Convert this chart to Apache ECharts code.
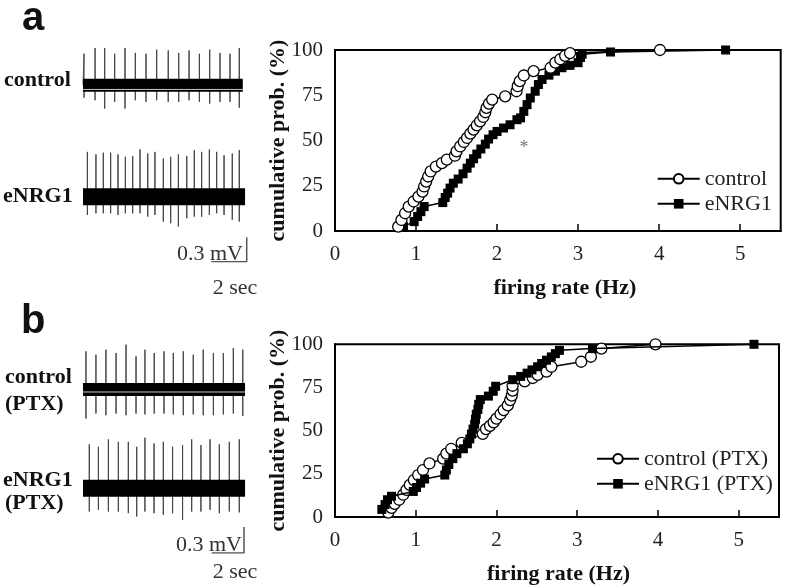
<!DOCTYPE html>
<html>
<head>
<meta charset="utf-8">
<script src="https://cdn.jsdelivr.net/npm/echarts@6/dist/echarts.min.js"></script>
<style>
  html, body { margin: 0; padding: 0; background: #fff; }
  #chart { width: 787px; height: 586px; }
</style>
</head>
<body>
<div id="chart"></div>
<script>
// ---- cumulative distributions (firing rate in Hz, cumulative prob. in %) ----
const aCtrlRate = [0.78, 0.82, 0.865, 0.91, 0.97, 1.03, 1.08, 1.10, 1.125, 1.15, 1.18, 1.245, 1.32, 1.38, 1.48, 1.50, 1.545, 1.59, 1.63, 1.67, 1.71, 1.75, 1.79, 1.83, 1.855, 1.87, 1.90, 1.94, 2.10, 2.24, 2.255, 2.28, 2.33, 2.45, 2.66, 2.72, 2.78, 2.84, 2.90, 4.01];
const aCtrlProb = [2.4, 6.1, 9.8, 13.5, 16.3, 19, 21.8, 24.6, 27.3, 30.1, 32.9, 35.6, 37.5, 39.4, 41.6, 44, 46.7, 49.2, 51.4, 53.8, 56, 58.4, 60.6, 63, 65.6, 68, 70.4, 72.6, 74.4, 77.2, 80, 82.8, 85.9, 88.3, 90.2, 93, 94.9, 96.8, 98.3, 100];

const aEnrgRate = [0.845, 0.977, 1.02, 1.06, 1.10, 1.33, 1.36, 1.39, 1.42, 1.46, 1.52, 1.58, 1.63, 1.67, 1.71, 1.75, 1.80, 1.855, 1.895, 1.95, 2.0, 2.08, 2.16, 2.245, 2.29, 2.33, 2.37, 2.41, 2.47, 2.51, 2.555, 2.64, 2.72, 2.80, 2.90, 3.0, 3.03, 3.05, 3.40, 4.82];
const aEnrgProb = [2.4, 5.2, 8, 10.7, 13.5, 15.7, 18.5, 20.9, 23.7, 26.4, 28.7, 31.6, 34.7, 37.5, 39.9, 42.5, 45.3, 48, 50.8, 53.2, 55, 56.9, 58.7, 61.5, 62.5, 66.1, 69.8, 73.5, 77.2, 80.9, 83.7, 86.1, 88.3, 90.2, 91.5, 93, 95.9, 97.7, 98.9, 100];

const bCtrlRate = [0.66, 0.70, 0.74, 0.795, 0.845, 0.885, 0.927, 0.977, 1.03, 1.09, 1.17, 1.34, 1.38, 1.44, 1.57, 1.83, 1.87, 1.92, 1.965, 2.0, 2.05, 2.09, 2.14, 2.17, 2.19, 2.20, 2.20, 2.35, 2.45, 2.51, 2.62, 2.68, 3.05, 3.17, 3.30, 3.97];
const bCtrlProb = [2.5, 5.3, 7.6, 10, 12.9, 15.7, 18.6, 21.4, 24.3, 27.2, 31, 33.8, 36.7, 39.5, 42.9, 48.1, 50.9, 52.8, 54.8, 57, 59.5, 61.9, 64.6, 67.7, 70.3, 73.2, 76, 78.5, 80.5, 82.3, 84.2, 87, 89.9, 92.8, 97.5, 100];

const bEnrgRate = [0.58, 0.62, 0.65, 0.70, 0.97, 1.01, 1.06, 1.11, 1.36, 1.38, 1.41, 1.46, 1.51, 1.59, 1.64, 1.67, 1.69, 1.71, 1.73, 1.74, 1.75, 1.77, 1.78, 1.80, 1.90, 1.96, 1.99, 2.20, 2.30, 2.38, 2.44, 2.51, 2.56, 2.62, 2.68, 2.73, 2.78, 3.19, 5.19];
const bEnrgProb = [4.4, 7.2, 10, 12, 14.8, 17.1, 19.6, 22, 24.3, 27.2, 30.4, 33.8, 36.7, 39.5, 42.4, 45.2, 48, 50.9, 53.7, 56.6, 59.5, 62.3, 65.2, 68, 70, 72.8, 75.7, 79.5, 81.4, 83.3, 85.2, 87, 88.9, 90.8, 92.7, 94.6, 96.5, 97.5, 100];

const rateTicks = [0, 1, 2, 3, 4, 5];
const probTicks = [0, 25, 50, 75, 100];

// ---- example traces: spike time (s), peak (mV), trough (mV) ----
const aCtrlSpikeT = [0.06, 0.69, 1.24, 1.81, 2.40, 2.99, 3.60, 4.21, 4.87, 5.47, 6.06, 6.65, 7.24, 7.83, 8.40, 8.93];
const aCtrlSpikeUp = [0.38, 0.45, 0.45, 0.38, 0.45, 0.39, 0.38, 0.43, 0.42, 0.39, 0.42, 0.38, 0.43, 0.39, 0.38, 0.45];
const aCtrlSpikeDown = [0.15, 0.18, 0.28, 0.20, 0.28, 0.18, 0.20, 0.18, 0.20, 0.20, 0.18, 0.20, 0.22, 0.20, 0.20, 0.27];

const aEnrgSpikeT = [0.25, 0.74, 1.16, 1.58, 2.00, 2.42, 2.84, 3.26, 3.70, 4.11, 4.59, 5.01, 5.45, 5.93, 6.36, 6.78, 7.22, 7.64, 8.06, 8.53, 8.93];
const aEnrgSpikeUp = [0.54, 0.51, 0.53, 0.53, 0.51, 0.48, 0.49, 0.57, 0.52, 0.54, 0.46, 0.48, 0.51, 0.49, 0.56, 0.54, 0.57, 0.54, 0.50, 0.52, 0.56];
const aEnrgSpikeDown = [0.22, 0.20, 0.20, 0.20, 0.22, 0.20, 0.20, 0.20, 0.24, 0.22, 0.30, 0.32, 0.36, 0.26, 0.24, 0.24, 0.22, 0.20, 0.22, 0.28, 0.30];

const bCtrlSpikeT = [0.17, 0.74, 1.31, 1.89, 2.46, 3.03, 3.54, 4.07, 4.63, 5.16, 5.73, 6.30, 6.87, 7.45, 8.02, 8.59, 9.13];
const bCtrlSpikeUp = [0.46, 0.42, 0.48, 0.44, 0.54, 0.40, 0.48, 0.44, 0.46, 0.44, 0.46, 0.42, 0.48, 0.44, 0.44, 0.50, 0.48];
const bCtrlSpikeDown = [0.35, 0.29, 0.31, 0.29, 0.31, 0.29, 0.30, 0.29, 0.29, 0.30, 0.31, 0.30, 0.31, 0.31, 0.30, 0.29, 0.32];

const bEnrgSpikeT = [0.36, 0.88, 1.45, 2.02, 2.59, 3.07, 3.54, 4.06, 4.59, 5.12, 5.69, 6.21, 6.74, 7.26, 7.79, 8.36, 8.93];
const bEnrgSpikeUp = [0.53, 0.50, 0.59, 0.56, 0.56, 0.50, 0.61, 0.54, 0.56, 0.50, 0.52, 0.59, 0.52, 0.59, 0.53, 0.56, 0.59];
const bEnrgSpikeDown = [0.28, 0.26, 0.28, 0.28, 0.30, 0.34, 0.28, 0.30, 0.32, 0.30, 0.38, 0.28, 0.28, 0.26, 0.30, 0.28, 0.29];

const traceEnd = [9.13, 9.26, 9.26, 9.26];      // recording length (s)
const ctrlBaseline = [-0.05, -0.03];             // light baseline inside control traces (mV)

// scale bar: 2 sec x 0.3 mV
const scaleBarT = [0, 2, 2];
const scaleBarV = [0, 0, 0.3];

const serif = "'Liberation Serif', 'Times New Roman', serif";
const chart = echarts.init(document.getElementById("chart"), null, { renderer: "canvas" });

const zip = (xs, ys) => xs.map((x, i) => [x, ys[i]]);

// spike trace as a single polyline going up and down at each spike time
const spikePath = (times, ups, downs, tEnd) => {
  const pts = [[0, 0]];
  times.forEach((t, i) => {
    pts.push([t, 0], [t, ups[i]], [t, -downs[i]], [t, 0]);
  });
  pts.push([tEnd, 0]);
  return pts;
};

// trace grids (17.5 px per sec, 83 px per mV)
const traceTops = [27.2, 138.6, 331.4, 430.2];
const bandWidths = [13, 17, 13, 17];

const grids = traceTops.map((top) => ({ left: 83, top: top, width: 162.75, height: 99.6 }));
grids.push({ left: 211.3, top: 237.3, width: 35.4, height: 24.4 }); // scale a
grids.push({ left: 211.7, top: 527, width: 32.3, height: 26 });     // scale b
grids.push({ left: 335, top: 50, width: 445.7, height: 181, show: true, borderColor: "#000", borderWidth: 2 });
grids.push({ left: 335, top: 344.3, width: 444, height: 175, show: true, borderColor: "#000", borderWidth: 2 });

const hiddenX = (i, max) => ({ type: "value", gridIndex: i, min: 0, max: max, show: false });
const hiddenY = (i, min, max) => ({ type: "value", gridIndex: i, min: min, max: max, show: false });

const rateAxis = (i, gap, pad) => ({
  type: "value",
  gridIndex: i,
  min: 0,
  max: 5.5,
  interval: 1,
  name: "firing rate (Hz)",
  nameLocation: "middle",
  nameGap: gap,
  nameMoveOverlap: false,
  nameTextStyle: { fontFamily: serif, fontSize: 22, fontWeight: "bold", color: "#111", padding: [0, 0, 0, pad] },
  axisLine: { lineStyle: { color: "#000", width: 2 } },
  axisTick: { inside: true, length: 7, lineStyle: { color: "#000", width: 1.5 } },
  axisLabel: {
    fontFamily: serif, fontSize: 21, color: "#222", margin: 13, showMaxLabel: false,
    formatter: (v) => (rateTicks.indexOf(v) >= 0 ? String(v) : ""),
  },
  splitLine: { show: false },
});

const probAxis = (i) => ({
  type: "value",
  gridIndex: i,
  min: 0,
  max: 100,
  interval: 25,
  name: "cumulative prob. (%)",
  nameLocation: "middle",
  nameGap: 46,
  nameMoveOverlap: false,
  nameRotate: 90,
  nameTextStyle: { fontFamily: serif, fontSize: 22, fontWeight: "bold", color: "#111" },
  axisLine: { lineStyle: { color: "#000", width: 2 } },
  axisTick: { show: false },
  axisLabel: {
    fontFamily: serif, fontSize: 21, color: "#222", margin: 12,
    formatter: (v) => (probTicks.indexOf(v) >= 0 ? String(v) : ""),
  },
  splitLine: { show: false },
});

const xAxes = [
  hiddenX(0, 9.3), hiddenX(1, 9.3), hiddenX(2, 9.3), hiddenX(3, 9.3),
  hiddenX(4, 2), hiddenX(5, 2),
  rateAxis(6, 46, 14), rateAxis(7, 46, 3),
];
const yAxes = [
  hiddenY(0, -0.5, 0.7), hiddenY(1, -0.5, 0.7), hiddenY(2, -0.5, 0.7), hiddenY(3, -0.5, 0.7),
  hiddenY(4, 0, 0.3), hiddenY(5, 0, 0.3),
  probAxis(6), probAxis(7),
];

const series = [];
const spikeSets = [
  [aCtrlSpikeT, aCtrlSpikeUp, aCtrlSpikeDown],
  [aEnrgSpikeT, aEnrgSpikeUp, aEnrgSpikeDown],
  [bCtrlSpikeT, bCtrlSpikeUp, bCtrlSpikeDown],
  [bEnrgSpikeT, bEnrgSpikeUp, bEnrgSpikeDown],
];
spikeSets.forEach((s, i) => {
  series.push({
    type: "line", xAxisIndex: i, yAxisIndex: i, silent: true, animation: false,
    data: spikePath(s[0], s[1], s[2], traceEnd[i]),
    showSymbol: false, lineStyle: { color: "#444", width: 1 }, z: 2,
  });
  // noisy baseline band
  series.push({
    type: "line", xAxisIndex: i, yAxisIndex: i, silent: true, animation: false,
    data: [[0, 0], [traceEnd[i], 0]],
    showSymbol: false, lineStyle: { color: "#000", width: bandWidths[i], cap: "butt" }, z: 3,
  });
});
[0, 2].forEach((g, k) => {
  series.push({
    type: "line", xAxisIndex: g, yAxisIndex: g, silent: true, animation: false,
    data: [[0, ctrlBaseline[k]], [traceEnd[g], ctrlBaseline[k]]],
    showSymbol: false, lineStyle: { color: "#c8c8c8", width: 1 }, z: 4,
  });
});
[4, 5].forEach((g) => {
  series.push({
    type: "line", xAxisIndex: g, yAxisIndex: g, silent: true, animation: false,
    data: zip(scaleBarT, scaleBarV),
    showSymbol: false, lineStyle: { color: "#555", width: 1.5 },
  });
});

const ctrlStyle = {
  symbol: "circle", symbolSize: 11,
  itemStyle: { color: "#fff", borderColor: "#000", borderWidth: 1.3 },
  lineStyle: { color: "#000", width: 1.5 },
};
const enrgStyle = {
  symbol: "rect", symbolSize: 9,
  itemStyle: { color: "#000" },
  lineStyle: { color: "#000", width: 1.5 },
};
const cdf = (name, g, data, style, z) =>
  Object.assign({ name: name, type: "line", xAxisIndex: g, yAxisIndex: g, data: data, animation: false, z: z }, style);

series.push(cdf("eNRG1", 6, zip(aEnrgRate, aEnrgProb), enrgStyle, 5));
series.push(cdf("control", 6, zip(aCtrlRate, aCtrlProb), ctrlStyle, 6));
series.push(cdf("control (PTX)", 7, zip(bCtrlRate, bCtrlProb), ctrlStyle, 5));
series.push(cdf("eNRG1 (PTX)", 7, zip(bEnrgRate, bEnrgProb), enrgStyle, 6));

const legendBase = {
  orient: "vertical", itemWidth: 42, itemHeight: 12, itemGap: 3,
  textStyle: { fontFamily: serif, fontSize: 22, color: "#222" },
  selectedMode: false,
};

const txt = (text, x, y, opts) => ({
  type: "text", x: x, y: y, silent: true,
  style: Object.assign({ text: text, fontFamily: serif, fontSize: 22, fill: "#111", verticalAlign: "middle" }, opts || {}),
});
const sans = "'Liberation Sans', Arial, sans-serif";

chart.setOption({
  backgroundColor: "#fff",
  animation: false,
  grid: grids,
  xAxis: xAxes,
  yAxis: yAxes,
  series: series,
  legend: [
    Object.assign({ data: ["control", "eNRG1"], left: 651.7, top: 162.8 }, legendBase),
    Object.assign({ data: ["control (PTX)", "eNRG1 (PTX)"], left: 591, top: 442.8 }, legendBase),
  ],
  graphic: [
    txt("a", 22, 19, { fontFamily: sans, fontSize: 40, fontWeight: "bold" }),
    txt("b", 21, 322, { fontFamily: sans, fontSize: 40, fontWeight: "bold" }),
    txt("control", 4, 80, { fontWeight: "bold" }),
    txt("eNRG1", 3, 196, { fontWeight: "bold" }),
    txt("control", 5, 377.6, { fontWeight: "bold" }),
    txt("(PTX)", 5, 404, { fontWeight: "bold" }),
    txt("eNRG1", 3, 480, { fontWeight: "bold" }),
    txt("(PTX)", 5, 503, { fontWeight: "bold" }),
    txt("0.3 mV", 243, 254.6, { align: "right", fill: "#333" }),
    txt("2 sec", 235, 288, { align: "center", fill: "#333" }),
    txt("0.3 mV", 242, 545.6, { align: "right", fill: "#333" }),
    txt("2 sec", 235, 572, { align: "center", fill: "#333" }),
    txt("*", 524, 148, { align: "center", fontSize: 18, fill: "#777" }),
  ],
});
</script>
</body>
</html>
